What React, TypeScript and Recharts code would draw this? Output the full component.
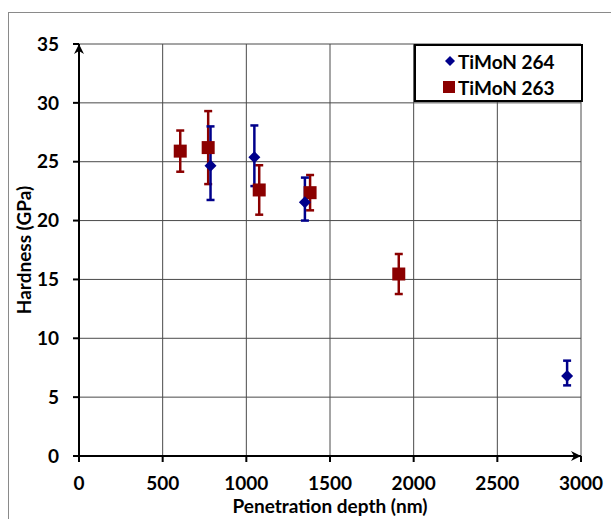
import React from "react";
import {
  ScatterChart,
  Scatter,
  XAxis,
  YAxis,
  CartesianGrid,
  ErrorBar,
  Legend,
  Label,
} from "recharts";

// TiMoN 264 (blue diamonds)
const depth264 = [786, 1048, 1350, 2917];
const hard264 = [24.65, 25.38, 21.55, 6.8];
const errLow264 = [2.9, 2.45, 1.55, 0.8];
const errHigh264 = [3.35, 2.7, 2.1, 1.3];

// TiMoN 263 (red squares)
const depth263 = [605, 772, 1077, 1381, 1911];
const hard263 = [25.9, 26.2, 22.6, 22.37, 15.46];
const err263 = [1.75, 3.1, 2.1, 1.5, 1.7];

const xTicks = [0, 500, 1000, 1500, 2000, 2500, 3000];
const yTicks = [0, 5, 10, 15, 20, 25, 30, 35];

const BLUE = "#00008b";
const RED = "#8b0000";
const FONT = "Lato, 'Open Sans', sans-serif";

const data264 = depth264.map((d, i) => ({
  depth: d,
  hardness: hard264[i],
  err: [errLow264[i], errHigh264[i]],
}));
const data263 = depth263.map((d, i) => ({
  depth: d,
  hardness: hard263[i],
  err: [err263[i], err263[i]],
}));

const Diamond = (props: any) => {
  const { cx, cy } = props;
  const r = 6;
  return (
    <path
      d={`M${cx},${cy - r} L${cx + r},${cy} L${cx},${cy + r} L${cx - r},${cy} Z`}
      fill={BLUE}
    />
  );
};

const Square = (props: any) => {
  const { cx, cy } = props;
  const s = 13;
  return <rect x={cx - s / 2} y={cy - s / 2} width={s} height={s} fill={RED} />;
};

const renderLegend = () => (
  <div
    style={{
      border: "2px solid #000",
      background: "#fff",
      width: 169,
      height: 58,
      boxSizing: "border-box",
      fontFamily: FONT,
      fontWeight: 700,
      fontSize: 19,
      color: "#000",
      paddingTop: 2,
    }}
  >
    <div style={{ display: "flex", alignItems: "center", height: 26 }}>
      <svg width={42} height={20}>
        <path d="M34,5 L39,10 L34,15 L29,10 Z" fill={BLUE} />
      </svg>
      <span>TiMoN 264</span>
    </div>
    <div style={{ display: "flex", alignItems: "center", height: 26 }}>
      <svg width={42} height={20}>
        <rect x={27} y={4} width={12} height={12} fill={RED} />
      </svg>
      <span>TiMoN 263</span>
    </div>
  </div>
);

const tickStyle = { fill: "#000", fontFamily: FONT, fontWeight: 700, fontSize: 19 };

export default function App() {
  return (
    <div style={{ position: "absolute", left: 0, top: 0, width: 611, height: 519, background: "#fff", overflow: "hidden" }}>
      <div
        style={{
          position: "absolute",
          left: 8,
          top: 12,
          width: 700,
          height: 600,
          borderLeft: "1px solid #8a8a8a",
          borderTop: "1px solid #8a8a8a",
        }}
      />
      <svg width={0} height={0} style={{ position: "absolute" }}>
        <defs>
          <marker
            id="axisArrow"
            markerWidth={12}
            markerHeight={12}
            refX={10}
            refY={6}
            orient="auto-start-reverse"
            markerUnits="userSpaceOnUse"
          >
            <path d="M0,1 L10,6 L0,11 L3,6 Z" fill="#000" />
          </marker>
        </defs>
      </svg>
      <div style={{ position: "absolute", left: 0, top: 0 }}>
        <ScatterChart width={611} height={519} margin={{ top: 44, right: 30, left: 0, bottom: 0 }}>
          <CartesianGrid stroke="#4a4a4a" strokeWidth={1} />
          <XAxis
            type="number"
            dataKey="depth"
            domain={[0, 3000]}
            ticks={xTicks}
            height={63}
            tick={tickStyle}
            tickSize={6}
            tickMargin={15}
            tickLine={{ stroke: "#000", strokeWidth: 2 }}
            axisLine={{ stroke: "#000", strokeWidth: 2, markerEnd: "url(#axisArrow)" }}
          >
            <Label
              content={() => (
                <text
                  x={330}
                  y={513}
                  textAnchor="middle"
                  fontFamily={FONT}
                  fontWeight={700}
                  fontSize={19}
                  fill="#000"
                >
                  Penetration depth (nm)
                </text>
              )}
            />
          </XAxis>
          <YAxis
            type="number"
            dataKey="hardness"
            domain={[0, 35]}
            ticks={yTicks}
            width={79}
            tick={tickStyle}
            tickSize={6}
            tickMargin={14}
            tickLine={{ stroke: "#000", strokeWidth: 2 }}
            axisLine={{ stroke: "#000", strokeWidth: 2, markerStart: "url(#axisArrow)" }}
          >
            <Label
              content={() => (
                <text
                  x={23}
                  y={250}
                  transform="rotate(-90 23 250)"
                  textAnchor="middle"
                  dominantBaseline="central"
                  fontFamily={FONT}
                  fontWeight={700}
                  fontSize={19}
                  fill="#000"
                >
                  Hardness (GPa)
                </text>
              )}
            />
          </YAxis>
          <Legend
            content={renderLegend}
            layout="horizontal"
            align="center"
            verticalAlign="middle"
            wrapperStyle={{ left: 414, top: 44, width: 169, height: 58 }}
          />
          <Scatter name="TiMoN 263" data={data263} shape={Square} isAnimationActive={false}>
            <ErrorBar dataKey="err" direction="y" width={4} stroke={RED} strokeWidth={2.5} />
          </Scatter>
          <Scatter name="TiMoN 264" data={data264} shape={Diamond} isAnimationActive={false}>
            <ErrorBar dataKey="err" direction="y" width={4} stroke={BLUE} strokeWidth={2.5} />
          </Scatter>
        </ScatterChart>
      </div>
    </div>
  );
}
